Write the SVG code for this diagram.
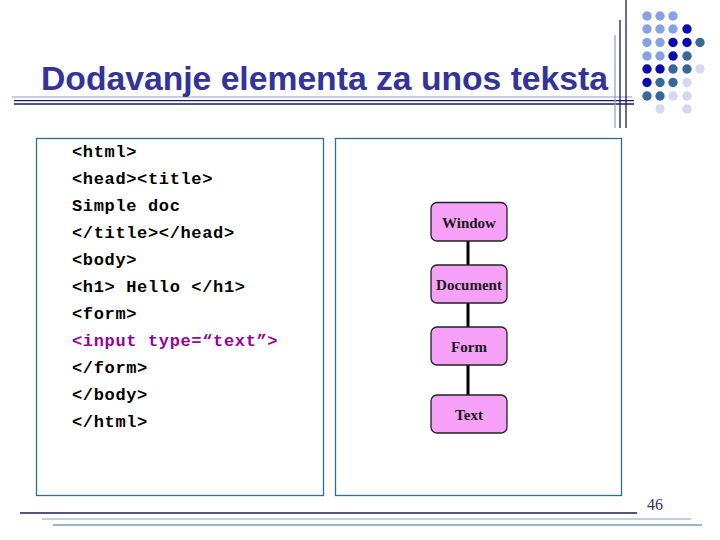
<svg xmlns="http://www.w3.org/2000/svg" width="720" height="540" viewBox="0 0 720 540">
<style>
.code{font-family:"Liberation Mono","Courier New",monospace;font-weight:bold;font-size:17px;letter-spacing:0.65px;fill:#000}
.node rect{fill:#f7a0f7;stroke:#222;stroke-width:1.3}
.node text{font-family:"Liberation Serif","Times New Roman",serif;font-weight:bold;font-size:15px;fill:#1a1a1a;text-anchor:middle}
.panel{fill:#fff;stroke:#336b8f;stroke-width:1.3}
.lb{fill:#86a2e4}.db{fill:#0a0aad}.st{fill:#356a98}.pl{fill:#d5d8ee}
</style>
<rect width="720" height="540" fill="#fff"/>
<g id="decor">
<line x1="12" y1="97" x2="632" y2="97" stroke="#8aa0c0" stroke-width="1.2"/>
<line x1="14" y1="100.6" x2="634" y2="100.6" stroke="#1a1a66" stroke-width="1.3"/>
<line x1="14" y1="104" x2="634" y2="104" stroke="#1a1a66" stroke-width="1.3"/>
<line x1="615" y1="35" x2="615" y2="128" stroke="#8aa0c0" stroke-width="1.2"/>
<line x1="620" y1="20" x2="620" y2="128" stroke="#1a1a66" stroke-width="1.3"/>
<line x1="626" y1="0" x2="626" y2="128" stroke="#1a1a66" stroke-width="1.3"/>
<g id="dots">
<circle class="lb" cx="647" cy="16" r="4.7"/><circle class="lb" cx="660" cy="16" r="4.7"/><circle class="lb" cx="673" cy="16" r="4.7"/>
<circle class="lb" cx="647" cy="29" r="4.7"/><circle class="lb" cx="660" cy="29" r="4.7"/><circle class="lb" cx="673" cy="29" r="4.7"/><circle class="db" cx="687" cy="29" r="4.7"/>
<circle class="lb" cx="647" cy="42.5" r="4.7"/><circle class="lb" cx="660" cy="42.5" r="4.7"/><circle class="db" cx="673" cy="42.5" r="4.7"/><circle class="db" cx="687" cy="42.5" r="4.7"/><circle class="st" cx="700" cy="42.5" r="4.7"/>
<circle class="lb" cx="647" cy="56" r="4.7"/><circle class="lb" cx="660" cy="56" r="4.7"/><circle class="db" cx="673" cy="56" r="4.7"/><circle class="st" cx="687" cy="56" r="4.7"/>
<circle class="db" cx="647" cy="69" r="4.7"/><circle class="db" cx="660" cy="69" r="4.7"/><circle class="st" cx="673" cy="69" r="4.7"/><circle class="st" cx="687" cy="69" r="4.7"/><circle class="pl" cx="700" cy="69" r="4.7"/>
<circle class="db" cx="647" cy="82.5" r="4.7"/><circle class="st" cx="660" cy="82.5" r="4.7"/><circle class="st" cx="673" cy="82.5" r="4.7"/><circle class="pl" cx="687" cy="82.5" r="4.7"/>
<circle class="st" cx="647" cy="96" r="4.7"/><circle class="st" cx="660" cy="96" r="4.7"/><circle class="pl" cx="673" cy="96" r="4.7"/><circle class="pl" cx="687" cy="96" r="4.7"/>
<circle class="pl" cx="660" cy="109" r="4.7"/><circle class="pl" cx="687" cy="109" r="4.7"/>
</g>
<line x1="20" y1="513" x2="637" y2="513" stroke="#1a1a5c" stroke-width="1.3"/>
<line x1="42" y1="519" x2="691" y2="519" stroke="#8aa0b8" stroke-width="1.2"/>
<line x1="53" y1="525" x2="702" y2="525" stroke="#3c6e8c" stroke-width="1.2"/>
</g>
<text id="title" x="41" y="90" font-family="Liberation Sans, Arial, sans-serif" font-weight="bold" font-size="34" fill="#333399" textLength="567" lengthAdjust="spacingAndGlyphs">Dodavanje elementa za unos teksta</text>
<g id="code-panel">
<rect class="panel" x="36.5" y="138.5" width="287" height="357"/>
<text class="code" x="72" y="157">&lt;html&gt;</text>
<text class="code" x="72" y="184">&lt;head&gt;&lt;title&gt;</text>
<text class="code" x="72" y="211">Simple doc</text>
<text class="code" x="72" y="238">&lt;/title&gt;&lt;/head&gt;</text>
<text class="code" x="72" y="265">&lt;body&gt;</text>
<text class="code" x="72" y="292">&lt;h1&gt; Hello &lt;/h1&gt;</text>
<text class="code" x="72" y="319">&lt;form&gt;</text>
<text class="code" x="72" y="346" style="fill:#990099">&lt;input type=“text”&gt;</text>
<text class="code" x="72" y="373">&lt;/form&gt;</text>
<text class="code" x="72" y="400">&lt;/body&gt;</text>
<text class="code" x="72" y="427">&lt;/html&gt;</text>
</g>
<g id="tree-panel">
<rect class="panel" x="335.5" y="138.5" width="286" height="357"/>
</g>
<g id="connectors" stroke="#000" stroke-width="3">
<line x1="468" y1="241" x2="468" y2="265"/>
<line x1="468" y1="303" x2="468" y2="327"/>
<line x1="468" y1="365" x2="468" y2="395"/>
</g>
<g id="window" class="node"><rect x="431" y="202.5" width="76" height="38.5" rx="6"/><text x="469" y="228">Window</text></g>
<g id="document" class="node"><rect x="431" y="265" width="76" height="38" rx="6"/><text x="469" y="290">Document</text></g>
<g id="form" class="node"><rect x="431" y="327" width="76" height="38" rx="6"/><text x="469" y="352">Form</text></g>
<g id="text" class="node"><rect x="431" y="395" width="76" height="38" rx="6"/><text x="469" y="420">Text</text></g>
<text id="page" x="647" y="510" font-family="Liberation Serif, Times New Roman, serif" font-size="16" fill="#333366">46</text>
</svg>
